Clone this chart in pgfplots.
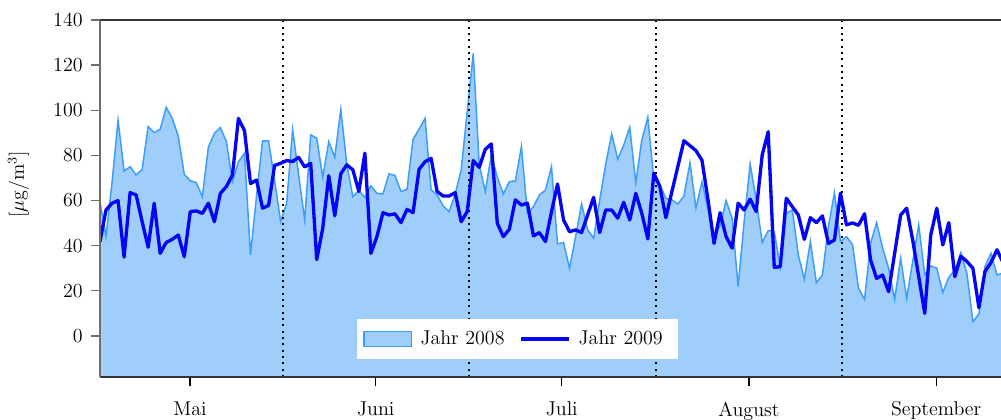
\documentclass[border=0pt]{standalone}
\usepackage{pgfplots}
\pgfplotsset{compat=1.18}
\usepgfplotslibrary{fillbetween}
\usepackage{pgfplotstable}
\definecolor{areafill}{RGB}{160,206,251}
\definecolor{areaedge}{RGB}{60,158,250}
\definecolor{line09}{RGB}{5,5,245}
\definecolor{axgrey}{RGB}{110,110,110}

% day index (0 = 1 May), daily means 2008 / 2009
\pgfplotstableread{
d y8 y9
0 59.5 41.8
1 44 55.8
2 68 58.8
3 95.6 60
4 73.1 34.9
5 75 63.5
6 71.3 62.5
7 73.8 50.6
8 92.8 39.3
9 90.1 58.8
10 91.6 36.6
11 101.3 41.4
12 96.4 42.8
13 88.6 44.7
14 71.6 35.1
15 68.8 55.1
16 67.9 55.4
17 61.7 54.3
18 83.6 58.8
19 89.8 50.6
20 92.3 63.2
21 86.1 66.2
22 68.4 71.3
23 77.2 96.4
24 80.9 91
25 35.9 67.5
26 62 69.1
27 86.4 56.6
28 86.4 57.8
29 69 75.6
30 50.8 76.5
31 58.8 77.7
32 91.5 77.3
33 71.3 79.1
34 51.4 74.9
35 89.1 76.5
36 87.6 33.8
37 70.3 47.7
38 86.1 71
39 79.2 53.2
40 100.4 71.9
41 76 75.8
42 61.7 73.6
43 64.4 64
44 61.4 81
45 66.5 36.6
46 63.2 44
47 62.9 54.6
48 71.8 53.6
49 71.1 54.1
50 64 50.2
51 65 56.1
52 87.1 54.6
53 91.6 73.8
54 96.4 77.2
55 64.8 78.7
56 62.5 64
57 57.6 62
58 55.1 62
59 62.9 63.5
60 73.6 50.6
61 99.4 55.1
62 125.2 77.7
63 75.8 74.7
64 64 82.7
65 80.2 85.1
66 70.3 49.9
67 62.9 44
68 68.4 47.3
69 68.7 60.3
70 83.9 58
71 54.3 58.8
72 57.3 44.3
73 62.5 45.8
74 64.7 41.8
75 75 55
76 40.8 67.3
77 41.4 51.4
78 30 46.2
79 44 47
80 58.5 45.8
81 47 53.6
82 43.3 61.4
83 60 45.8
84 76 55.8
85 89.5 55.8
86 78.3 52.2
87 84.6 59.2
88 92.5 51.4
89 67.9 63.2
90 86.8 54.3
91 96.9 43
92 69.1 72.1
93 66.9 66.2
94 61 52.4
95 60.3 64
96 58.5 75.2
97 62 86.5
98 76.7 84.3
99 56.6 82.1
100 68.4 77.8
101 56 60.3
102 43.5 41
103 49 54.6
104 60 44
105 52.2 38.9
106 21.9 58.8
107 50.6 55.8
108 76.2 60.6
109 60.3 55.1
110 41.4 80.2
111 46.7 90.5
112 46.2 30.4
113 30.7 30.7
114 54.3 61
115 55.8 57.3
116 35.9 53.6
117 25.1 42.8
118 41.8 52.4
119 23.6 50.2
120 27 53.2
121 48.4 41
122 63.5 42.5
123 41.8 63.2
124 44 49.2
125 40.5 50.1
126 21.1 49
127 16.2 54.1
128 41 33.7
129 50.2 25.5
130 38.9 27
131 30 19.6
132 16.2 36.6
133 34.4 53.6
134 16.7 56.6
135 33 42.5
136 49.2 26.3
137 27 10
138 31 44.7
139 30 56.6
140 19.2 40.3
141 26 50.2
142 29.2 26.3
143 36.9 35.3
144 27.8 33
145 6.3 30
146 9.7 12.5
147 30.7 28.5
148 36.6 32.5
149 27 38.2
150 27.8 32.5
}\messdata

\begin{document}
\begin{tikzpicture}[font=\fontsize{12}{14}\selectfont]
\begin{axis}[
    scale only axis,
    width=540.6pt, height=214.2pt,
    xmin=0, xmax=149.67,
    ymin=-18.2, ymax=140,
    axis on top,
    axis x line=box,
    axis y line=left,
    axis line style={-},
    x axis line style={black!80, line width=0.8pt},
    y axis line style={axgrey, line width=1.1pt},
    tick pos=left,
    tick align=outside,
    major tick length=5.4pt,
    xtick={14.95,45.8,76.7,107.8,138.9},
    xticklabels={Mai,Juni,Juli,August,September},
    ytick={0,20,...,140},
    y tick style={axgrey, line width=0.8pt},
    x tick style={black, line width=0.8pt},
    xticklabel style={yshift=-6pt},
    yticklabel style={xshift=-1.5pt},
    ylabel={[$\mu$g/m$^3$]},
    ylabel style={at={(rel axis cs:0,0.54)}, anchor=center, yshift=49pt},
    legend columns=2,
    legend style={at={(0.463,0.106)}, anchor=center, draw=none, fill=white,
        inner xsep=4pt, inner ysep=5pt,
        nodes={inner xsep=5pt},
        /tikz/every even column/.append style={column sep=4pt}},
]
\addplot[draw=none, name path=top, forget plot] table[x=d, y=y8] {\messdata};
\addplot[draw=none, name path=bot, forget plot] coordinates {(0,-30) (150,-30)};
\addplot[areafill, forget plot] fill between[of=top and bot];
\addplot[areaedge, line width=0.9pt, forget plot] table[x=d, y=y8] {\messdata};
\draw[black, line width=1.2pt, dash pattern=on 1.2pt off 2.6pt] (axis cs:30.4,-18.2) -- (axis cs:30.4,140);
\draw[black, line width=1.2pt, dash pattern=on 1.2pt off 2.6pt] (axis cs:61.3,-18.2) -- (axis cs:61.3,140);
\draw[black, line width=1.2pt, dash pattern=on 1.2pt off 2.6pt] (axis cs:92.4,-18.2) -- (axis cs:92.4,140);
\draw[black, line width=1.2pt, dash pattern=on 1.2pt off 2.6pt] (axis cs:123.3,-18.2) -- (axis cs:123.3,140);
\addplot[line09, line width=2pt, line join=round, forget plot] table[x=d, y=y9] {\messdata};
\addlegendimage{legend image code/.code={\draw[fill=areafill, draw=areaedge, line width=0.9pt] (0cm,-0.16cm) rectangle (1cm,0.16cm);}}
\addlegendentry{Jahr 2008}
\addlegendimage{legend image code/.code={\draw[line09, line width=2pt] (0cm,0cm) -- (1cm,0cm);}}
\addlegendentry{Jahr 2009}
\coordinate (O) at (rel axis cs:0,0);
\coordinate (T) at (rel axis cs:1,1);
\end{axis}
\pgfresetboundingbox
\path ([shift={(-60pt,-25.2pt)}]O) rectangle ([shift={(0pt,12pt)}]T);
\end{tikzpicture}
\end{document}
